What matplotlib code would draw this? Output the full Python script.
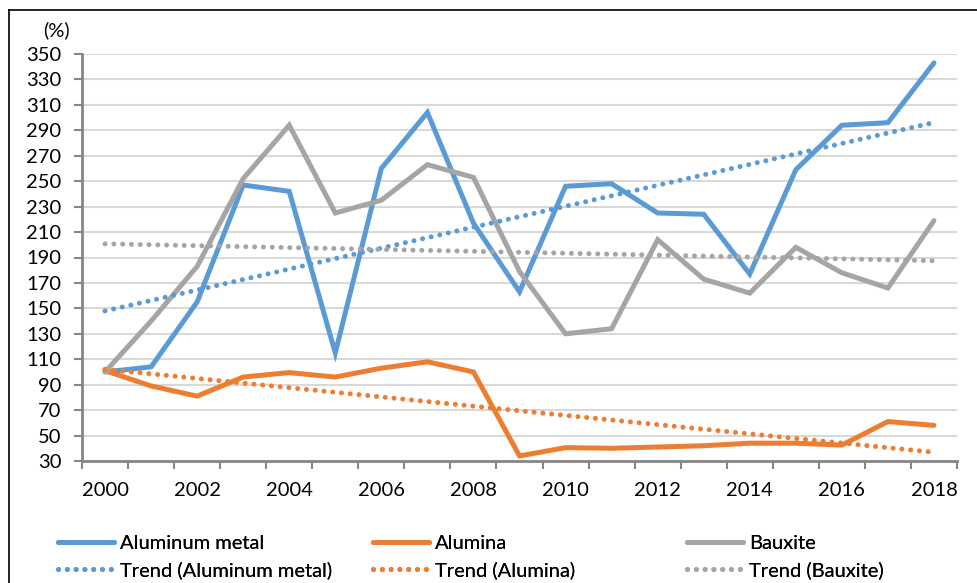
import numpy as np
import matplotlib
matplotlib.use("Agg")
import matplotlib.pyplot as plt
from matplotlib.lines import Line2D

years = list(range(2000, 2019))
aluminum_metal = [100, 104, 155, 247, 242, 115, 260, 304, 217, 163, 246, 248, 225, 224, 177, 259, 294, 296, 343]
alumina = [101, 89, 81, 96, 99.5, 96, 103, 108, 100, 34, 40.5, 40, 41, 42, 44, 44, 42.5, 61, 58]
bauxite = [100, 140, 183, 252, 294, 225, 235, 263, 253, 179, 130, 134, 204, 173, 162, 198, 178, 166, 219]
y_ticks = list(range(30, 351, 20))
x_tick_labels = [str(y) if y % 2 == 0 else "" for y in years]

series = [
    ("Aluminum metal", aluminum_metal, "#5B9BD5"),
    ("Alumina", alumina, "#ED7D31"),
    ("Bauxite", bauxite, "#A5A5A5"),
]

plt.rcParams['font.family'] = ['Lato', 'DejaVu Sans']
FS = 14.5
W, H = 977, 583
fig = plt.figure(figsize=(W / 100, H / 100), dpi=100)
ax = fig.add_axes([82 / W, 1 - 461 / H, (957 - 82) / W, (461 - 54) / H])

x = np.arange(len(years))
lw = 3.6
dots = (0, (0.01, 1.75))
for name, vals, col in series:
    ax.plot(x, vals, color=col, lw=lw, solid_capstyle='round', solid_joinstyle='miter', zorder=3)

for name, vals, col in series:
    coef = np.polyfit(x, vals, 1)
    tr = np.polyval(coef, x)
    ax.plot(x, tr, color=col, lw=lw, linestyle=dots, dash_capstyle='round', zorder=4)

ax.set_xlim(-0.5, len(years) - 0.5)
ax.set_ylim(30, 350)
ax.set_yticks(y_ticks)
ax.set_xticks(x)
ax.set_xticklabels(x_tick_labels)
ax.set_xticks(np.arange(-0.5, len(years), 1), minor=True)
ax.tick_params(axis='x', which='major', length=0, pad=15, labelsize=FS, colors='#000000')
ax.tick_params(axis='x', which='minor', length=6, width=1.5, color='#868686', direction='out')
ax.tick_params(axis='y', length=6, width=1.5, color='#868686', pad=9, labelsize=FS)
for lab in ax.get_yticklabels() + ax.get_xticklabels():
    lab.set_color('#000000')

ax.grid(axis='y', color='#D9D9D9', lw=1.5, zorder=0)
ax.set_axisbelow(True)
for s in ['top', 'right']:
    ax.spines[s].set_visible(False)
for s in ['left', 'bottom']:
    ax.spines[s].set_color('#868686')
    ax.spines[s].set_linewidth(2)

fig.text(56 / W, 1 - 30 / H, "(%)", ha='center', va='center', fontsize=FS)

# Legend: one column per series (solid on top, trend below)
col_x = [58, 373, 687]
for (name, vals, col), cx in zip(series, col_x):
    hs = [Line2D([0], [0], color=col, lw=lw, solid_capstyle='round'),
          Line2D([0], [0], color=col, lw=lw, linestyle=dots, dash_capstyle='round')]
    ls = [name, "Trend (" + name + ")"]
    leg = fig.legend(hs, ls, loc='center left', bbox_to_anchor=(cx / W, 1 - 557 / H),
                     frameon=False, fontsize=FS, handlelength=2.8, handletextpad=0.3,
                     labelspacing=0.5, borderaxespad=0, borderpad=0)
    fig.add_artist(leg)

# Figure border (top and left visible)
fig.add_artist(Line2D([9 / W, 1], [1 - 10 / H, 1 - 10 / H], transform=fig.transFigure, color='black', lw=1.2))
fig.add_artist(Line2D([9 / W, 9 / W], [0, 1 - 10 / H], transform=fig.transFigure, color='black', lw=1.2))

fig.savefig("out.png", dpi=100)
